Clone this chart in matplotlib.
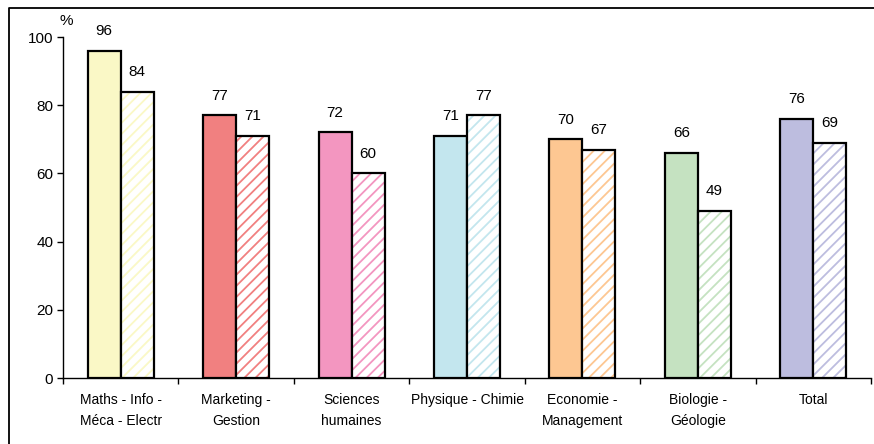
import matplotlib
matplotlib.use("Agg")
import matplotlib.pyplot as plt
from matplotlib.lines import Line2D
import numpy as np

plt.rcParams['font.family'] = ['Liberation Sans', 'DejaVu Sans']

categories = ["Maths - Info -\nMéca - Electr", "Marketing -\nGestion", "Sciences\nhumaines",
              "Physique - Chimie", "Economie -\nManagement", "Biologie -\nGéologie", "Total"]
series_a = [96, 77, 72, 71, 70, 66, 76]
series_b = [84, 71, 60, 77, 67, 49, 69]
colors = ["#FAF8C6", "#F18080", "#F396C0", "#C3E6EE", "#FDC792", "#C5E2C1", "#BDBDDF"]
yticks = [0, 20, 40, 60, 80, 100]

fig = plt.figure(figsize=(8.74, 4.44), dpi=100)
ax = fig.add_axes([63/874, 1-378/444, (871-63)/874, (378-37)/444])

x = np.arange(len(categories))
w = 0.286
plt.rcParams['hatch.linewidth'] = 1.3
for i in range(len(categories)):
    ax.bar(x[i] - w/2, series_a[i], width=w, color=colors[i], edgecolor='black', linewidth=1.6, zorder=3)
    ax.bar(x[i] + w/2, series_b[i], width=w, color='white', edgecolor=colors[i], hatch='///', linewidth=0, zorder=3)
    ax.bar(x[i] + w/2, series_b[i], width=w, color='none', edgecolor='black', linewidth=1.6, zorder=4)
    ax.annotate(str(series_a[i]), (x[i] - w/2, series_a[i]), xytext=(0, 9), textcoords='offset points',
                ha='center', va='bottom', fontsize=11)
    ax.annotate(str(series_b[i]), (x[i] + w/2, series_b[i]), xytext=(0, 9), textcoords='offset points',
                ha='center', va='bottom', fontsize=11)

ax.set_xlim(-0.5, len(categories) - 0.5)
ax.set_ylim(0, 100)
ax.set_yticks(yticks)
ax.tick_params(axis='y', labelsize=11, length=4, width=1, direction='out', pad=3)
ax.set_xticks(x)
ax.set_xticklabels(categories, fontsize=10, linespacing=1.6)
ax.tick_params(axis='x', which='major', length=0, pad=11)
ax.set_xticks(np.arange(-0.5, len(categories)), minor=True)
ax.tick_params(axis='x', which='minor', length=4, width=1, direction='out')
for s in ['top', 'right']:
    ax.spines[s].set_visible(False)
for s in ['left', 'bottom']:
    ax.spines[s].set_linewidth(1)

fig.text(66/874, 1-21/444, "%", ha='center', va='center', fontsize=11)

fx = 8.5/874
fy = 1 - 8.5/444
fig.add_artist(Line2D([fx, fx, 1.0], [0.0, fy, fy], transform=fig.transFigure, color='black', linewidth=1.3))

fig.savefig("out.png", dpi=100)
